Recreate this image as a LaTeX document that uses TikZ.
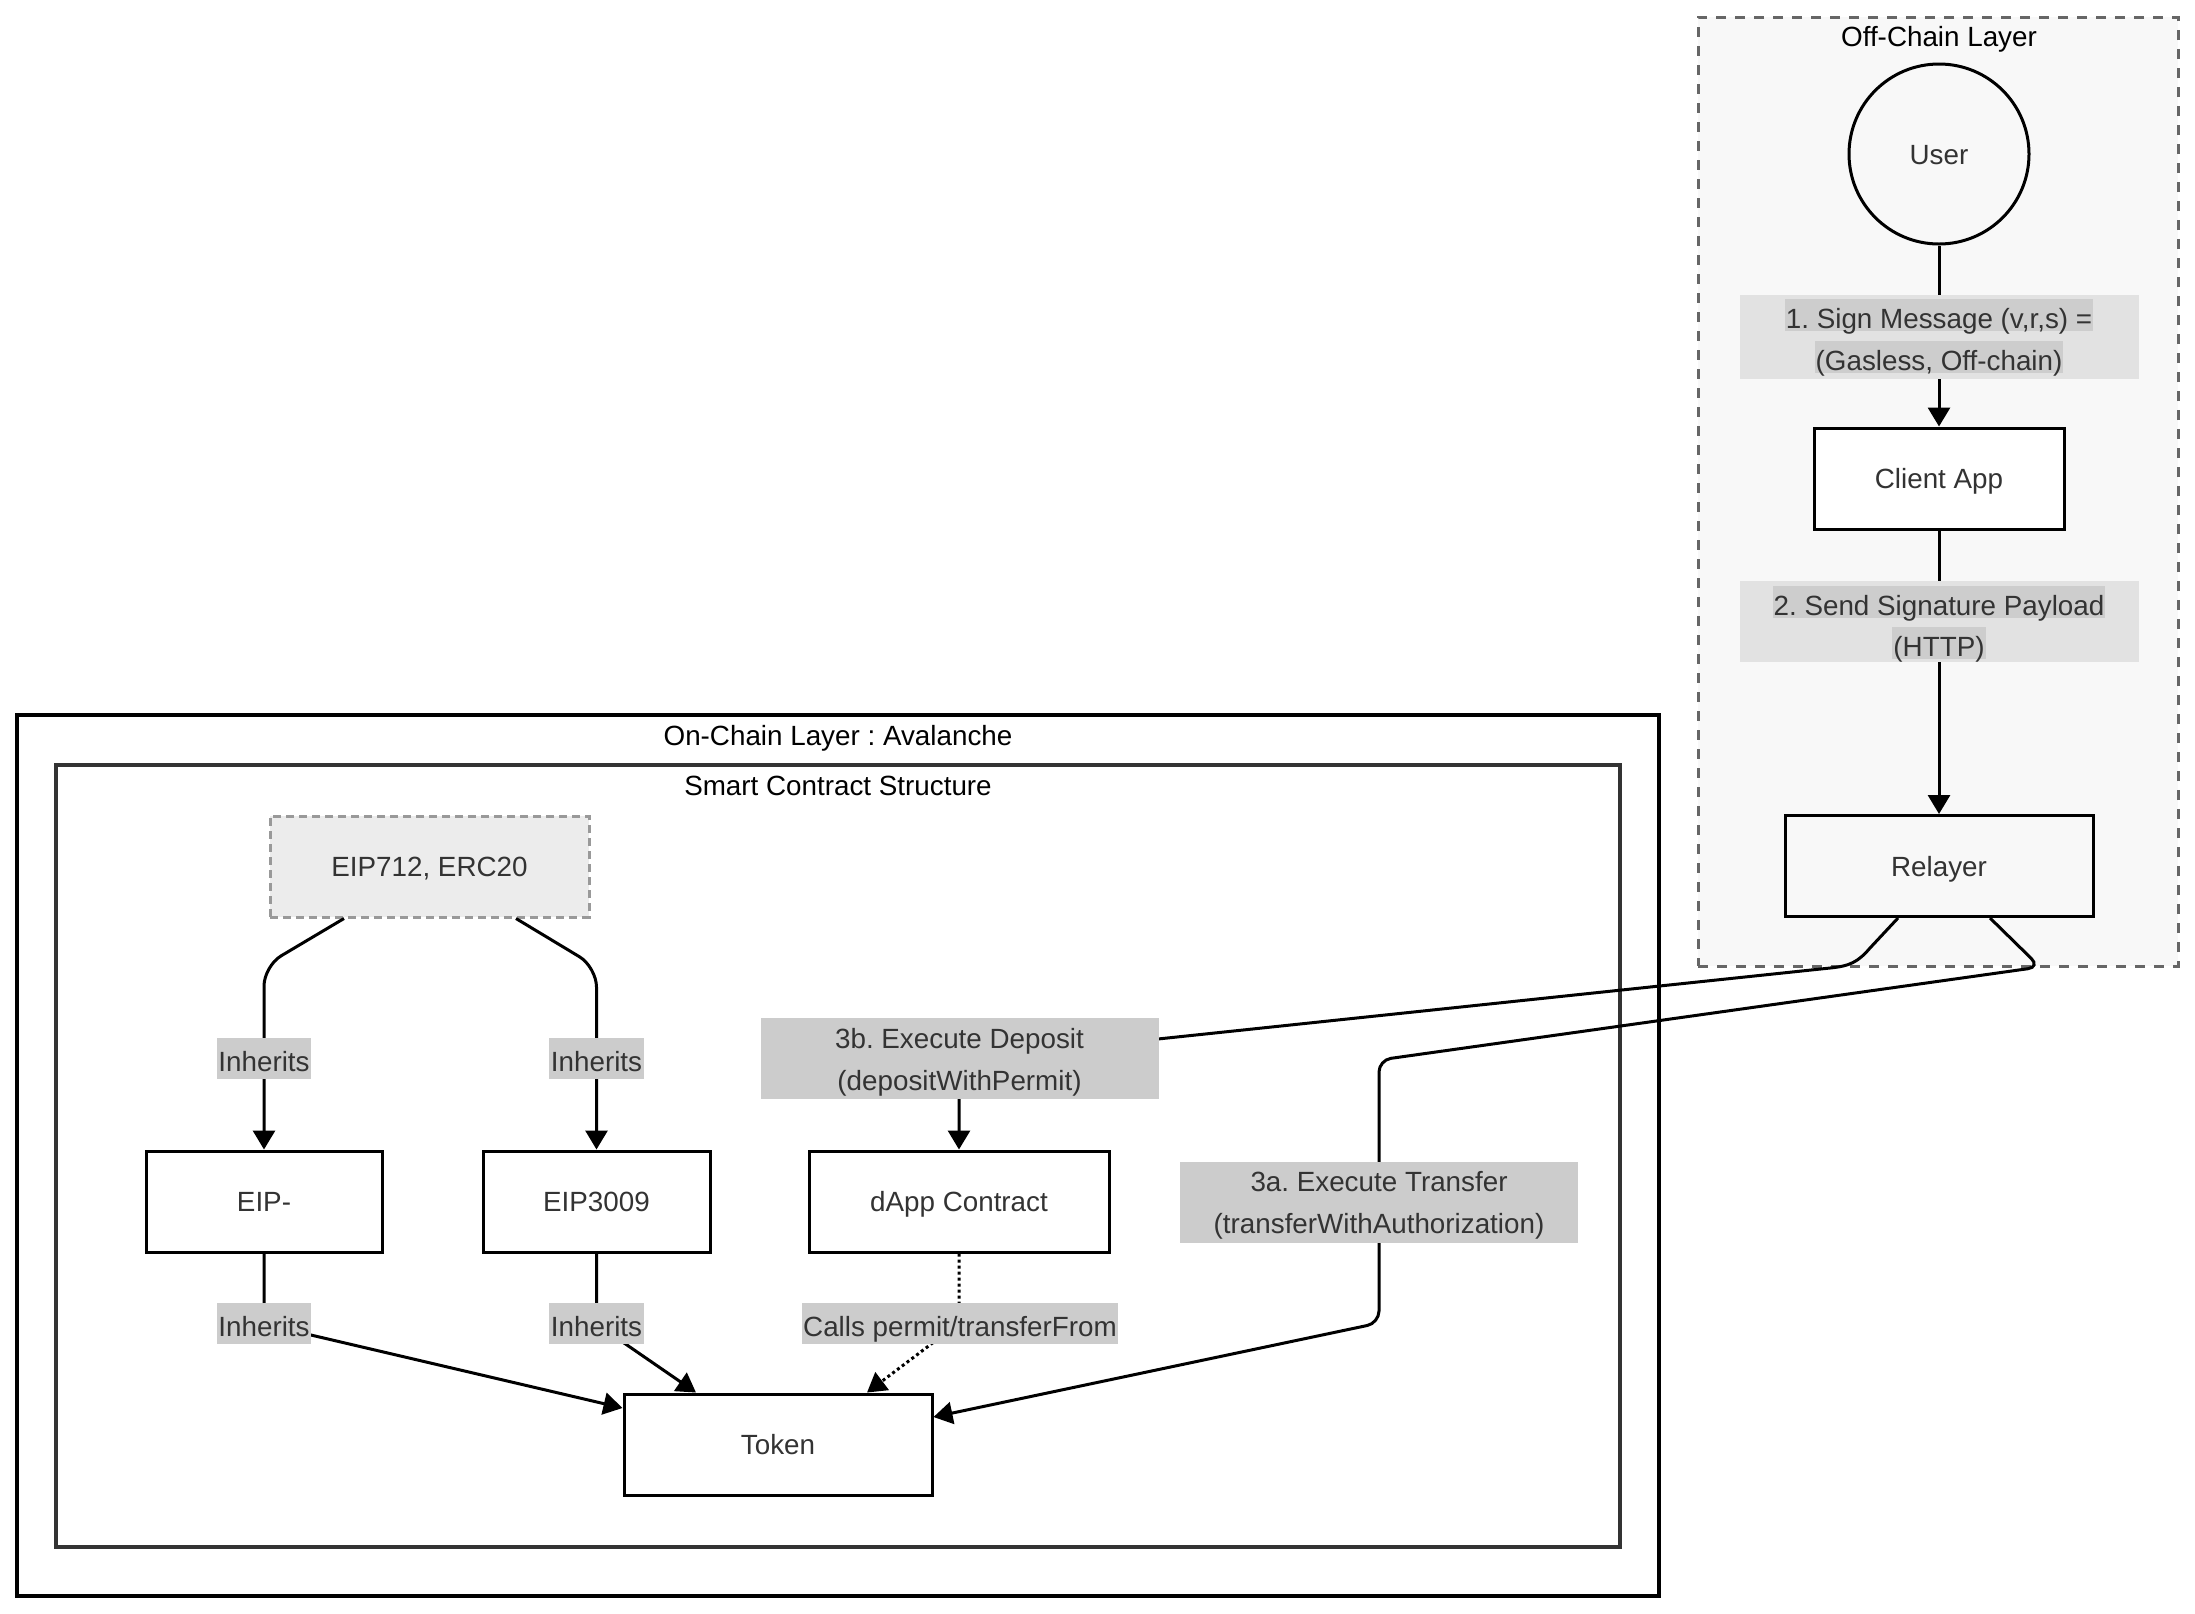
\documentclass[tikz,border=0pt]{standalone}
\usepackage{fontspec}
\setmainfont{Liberation Sans}
\usetikzlibrary{arrows.meta}
\frenchspacing
\definecolor{txt}{HTML}{333333}
\definecolor{lblgray}{HTML}{CCCCCC}
\definecolor{lbllight}{HTML}{E2E2E2}
\definecolor{hlgray}{HTML}{CDCDCD}
\definecolor{offbg}{HTML}{F8F8F8}
\definecolor{dashgray}{HTML}{666666}
\definecolor{scgray}{HTML}{333333}
\definecolor{basefill}{HTML}{ECECEC}
\definecolor{baseborder}{HTML}{999999}
\begin{document}
\frenchspacing
\begin{tikzpicture}[x=0.5pt,y=-0.5pt,
  font=\fontsize{13.9pt}{21pt}\selectfont\frenchspacing,
  ttl/.style={text=black, text height=10pt, text depth=0pt, inner sep=0pt},
  box/.style={draw=black, line width=1.5pt, fill=white, minimum height=50.5pt, text=txt, inner sep=0pt, text height=10pt, text depth=0pt},
  edge/.style={line width=1.5pt, -{Triangle[length=9.5pt,width=11pt]}},
  dotline/.style={dash pattern=on 1.5pt off 1.5pt},
  lbl/.style={fill=lblgray, text=txt, inner xsep=0.8pt, inner ysep=0pt, text height=13.5pt, text depth=0.5pt, minimum height=20.5pt},
  lbltwo/.style={fill=lblgray, minimum width=199pt, minimum height=40.5pt, inner sep=0pt},
  lbltxt/.style={text=txt, align=center, inner sep=0pt},
  lblbg/.style={fill=lbllight, minimum width=199.5pt, inner sep=0pt},
  hl/.style={fill=hlgray, text=txt, inner xsep=0.5pt, inner ysep=0pt, text height=13.5pt, text depth=0.5pt, minimum height=16pt}
]
\useasboundingbox (0,0) rectangle (2195,1613);

% containers
\node[draw=dashgray, dash pattern=on 5pt off 4.5pt, line width=1.5pt, fill=offbg,
      minimum width=240pt, minimum height=474.5pt, inner sep=0pt] (offchain) at (1938,491.5) {};
\node[ttl] (offtitle) at (1939,36) {Off-Chain Layer};

\node[draw=black, line width=2pt, fill=white, minimum width=821pt, minimum height=440.5pt, inner sep=0pt] (onchain) at (838,1155.5) {};
\node[ttl] (ontitle) at (838,735) {On-Chain Layer : Avalanche};
\node[draw=scgray, line width=2pt, fill=white, minimum width=782pt, minimum height=391pt, inner sep=0pt] (sc) at (838,1156) {};
\node[ttl] (sctitle) at (838,785) {Smart Contract Structure};

% nodes
\node[circle, draw=black, line width=1.5pt, fill=offbg, minimum size=90pt, text=txt, inner sep=0pt, text height=10pt, text depth=0pt] (user) at (1939,154) {User};
\node[box, minimum width=125pt] (client) at (1939,478.5) {Client App};
\node[box, minimum width=154pt, fill=offbg] (relayer) at (1939,866) {Relayer};
\node[box, minimum width=159.5pt, draw=baseborder, fill=basefill, dash pattern=on 4pt off 2.5pt] (eipbase) at (429.5,866.5) {EIP712, ERC20};
\node[box, minimum width=118pt] (eip) at (264,1201.5) {EIP-};
\node[box, minimum width=113.5pt] (eip3009) at (596.5,1201.5) {EIP3009};
\node[box, minimum width=150pt] (dapp) at (959,1201.5) {dApp Contract};
\node[box, minimum width=154pt] (token) at (778,1444.5) {Token};

% edges
\draw[edge] (user) -- (client);
\draw[edge] (client) -- (relayer);
\draw[edge, rounded corners=10pt] ([xshift=-42.75pt]eipbase.south) -- (264,966) -- (eip.north);
\draw[edge, rounded corners=10pt] ([xshift=43.25pt]eipbase.south) -- (596.5,967) -- (eip3009.north);
\draw[edge] (eip.south) -- (264,1324) -- ([yshift=18.25pt]token.west);
\draw[edge] (eip3009.south) -- (596.5,1324) -- ([xshift=-41pt]token.north);
\draw[edge, dotline] (dapp.south) -- (959,1323) -- ([xshift=44.5pt]token.north);
\draw[edge] ([xshift=-20.5pt]relayer.south) -- (1870,948) .. controls (1858,962) and (1850,966) .. (1830,968) -- (959,1060) -- (dapp.north);
\draw[edge, rounded corners=6pt] ([xshift=25.5pt]relayer.south) -- (2040,967) -- (1379,1060) -- (1379,1323) -- ([yshift=13.75pt]token.east);

% labels
\node[lblbg, minimum height=42pt] (l1bg) at (1939.5,336.5) {};
\node[hl] (l1a) at (1939,315) {1. Sign Message (v,r,s) =\ };
\node[hl] (l1b) at (1939,357) {(Gasless, Off-chain)};
\node[lblbg, minimum height=40.5pt] (l2bg) at (1939.5,621.5) {};
\node[hl] (l2a) at (1939,602) {2. Send Signature Payload\ };
\node[hl] (l2b) at (1939,643) {(HTTP)};

\node[lbl] (inh1) at (264,1058) {Inherits};
\node[lbl] (inh2) at (596.5,1058) {Inherits};
\node[lbl] (inh3) at (264,1323) {Inherits};
\node[lbl] (inh4) at (596.5,1323) {Inherits};
\node[lbl] (calls) at (960,1323) {Calls permit/transferFrom};
\node[lbltwo] (l3b) at (959.5,1058.5) {};
\node[lbltxt] (l3btext) at (959.5,1062) {3b. Execute Deposit\\(depositWithPermit)};
\node[lbltwo] (l3a) at (1379,1202) {};
\node[lbltxt] (l3atext) at (1379,1205.5) {3a. Execute Transfer\\(transferWithAuthorization)};
\end{tikzpicture}
\end{document}
